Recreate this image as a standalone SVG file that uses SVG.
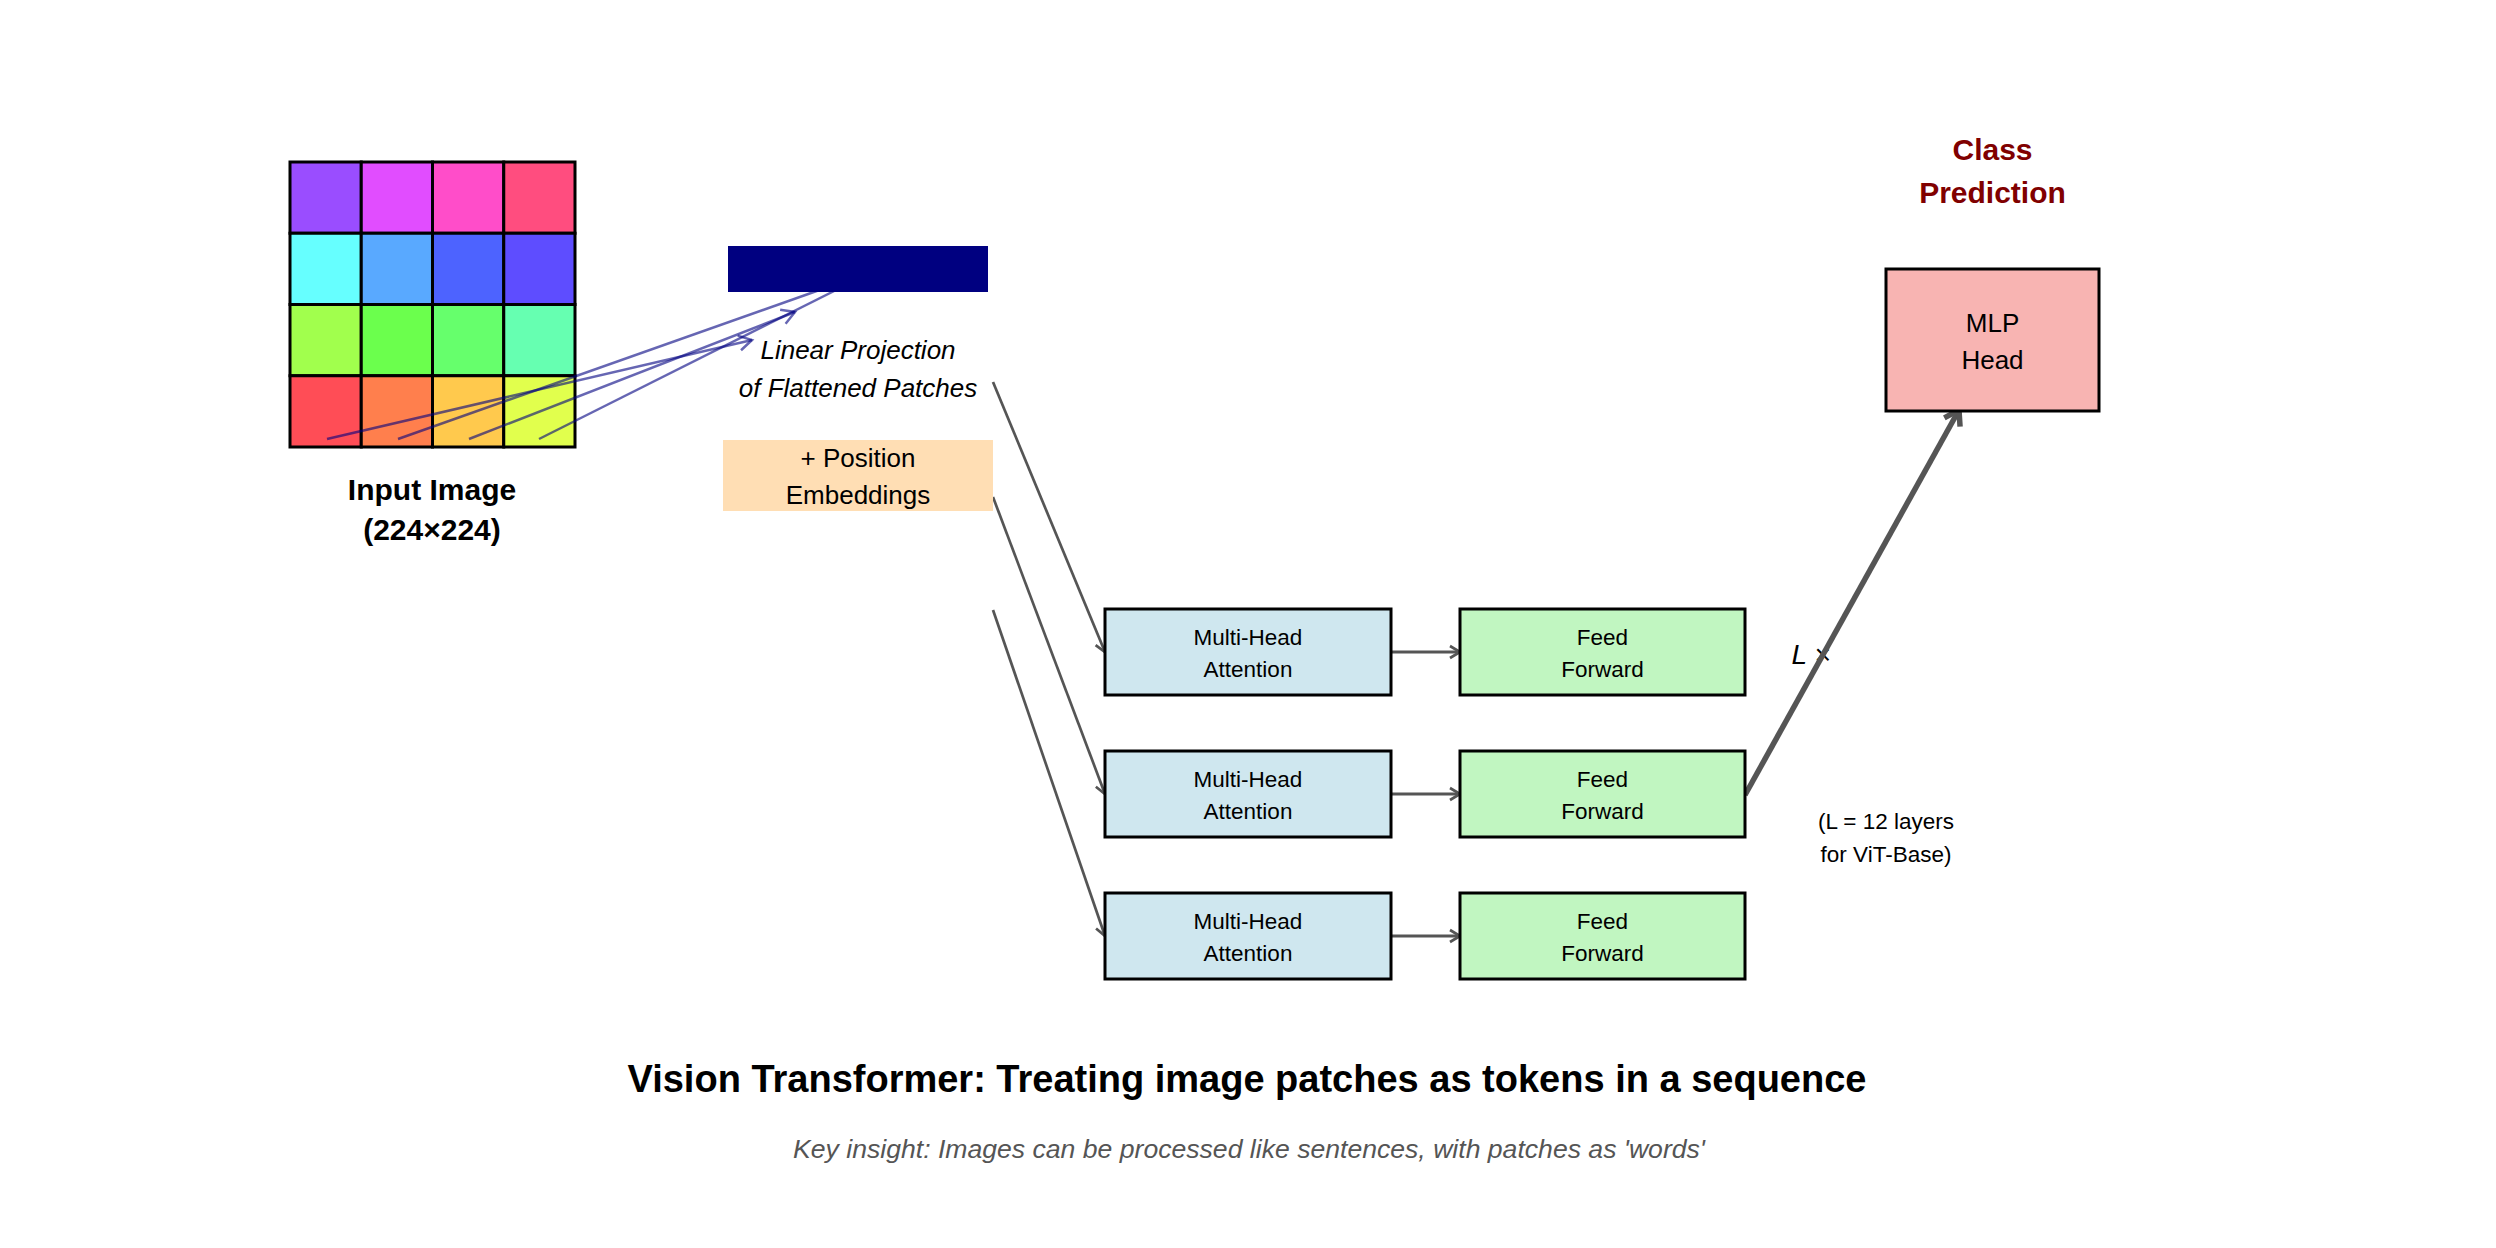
<svg xmlns="http://www.w3.org/2000/svg" width="2496" height="1248" viewBox="0 0 2496 1248">
<style>
  text { font-family: "Liberation Sans", Arial, sans-serif; fill: #000; }
  .cell { stroke: #000; stroke-width: 3; }
  .box { stroke: #000; stroke-width: 3; }
  .mha { fill: #CFE7EF; }
  .ff { fill: #C1F6C1; }
  .mlp { fill: #F8B4B2; }
  .lbl { font-size: 22.5px; text-anchor: middle; }
  .blue { stroke: #000080; stroke-opacity: 0.6; stroke-width: 2.5; fill: none; }
  .gray { stroke: #555; stroke-width: 2.7; fill: none; }
  .gray-h { stroke: #555; stroke-width: 3; fill: none; }
  .gray-big { stroke: #555; stroke-width: 5.5; fill: none; }
</style>
<defs>
  <marker id="arrBlue" markerUnits="userSpaceOnUse" markerWidth="24" markerHeight="24" viewBox="0 0 24 24" refX="20" refY="12" orient="auto">
    <path d="M7,4.5 L20,12 L7,19.5" fill="none" stroke="#000080" stroke-opacity="0.6" stroke-width="2.5"/>
  </marker>
  <marker id="arrGray" markerUnits="userSpaceOnUse" markerWidth="24" markerHeight="24" viewBox="0 0 24 24" refX="20" refY="12" orient="auto">
    <path d="M10,6 L20,12 L10,18" fill="none" stroke="#555" stroke-width="2.7"/>
  </marker>
  <marker id="arrBig" markerUnits="userSpaceOnUse" markerWidth="34" markerHeight="34" viewBox="0 0 34 34" refX="28" refY="17" orient="auto">
    <path d="M14,8 L28,17 L14,26" fill="none" stroke="#555" stroke-width="5.5"/>
  </marker>
</defs>
<rect x="0" y="0" width="2496" height="1248" fill="#fff"/>

<g id="input-image">
  <rect class="cell" x="290" y="162" width="71.25" height="71.25" fill="#9A4DFF"/>
  <rect class="cell" x="361.25" y="162" width="71.25" height="71.25" fill="#E14DFF"/>
  <rect class="cell" x="432.5" y="162" width="71.25" height="71.25" fill="#FF4DC9"/>
  <rect class="cell" x="503.75" y="162" width="71.25" height="71.25" fill="#FF4D7F"/>
  <rect class="cell" x="290" y="233.25" width="71.25" height="71.25" fill="#66FFFF"/>
  <rect class="cell" x="361.25" y="233.25" width="71.25" height="71.25" fill="#59A9FF"/>
  <rect class="cell" x="432.5" y="233.25" width="71.25" height="71.25" fill="#4D63FF"/>
  <rect class="cell" x="503.75" y="233.25" width="71.25" height="71.25" fill="#5E4DFF"/>
  <rect class="cell" x="290" y="304.5" width="71.25" height="71.25" fill="#A1FF4D"/>
  <rect class="cell" x="361.25" y="304.5" width="71.25" height="71.25" fill="#6BFF4D"/>
  <rect class="cell" x="432.5" y="304.5" width="71.25" height="71.25" fill="#66FF6C"/>
  <rect class="cell" x="503.75" y="304.5" width="71.25" height="71.25" fill="#66FFB1"/>
  <rect class="cell" x="290" y="375.75" width="71.25" height="71.25" fill="#FF4D56"/>
  <rect class="cell" x="361.25" y="375.75" width="71.25" height="71.25" fill="#FF7F4D"/>
  <rect class="cell" x="432.5" y="375.75" width="71.25" height="71.25" fill="#FFC94D"/>
  <rect class="cell" x="503.75" y="375.75" width="71.25" height="71.25" fill="#E1FF4D"/>
  <text x="432" y="500" font-size="30" font-weight="bold" text-anchor="middle">Input Image</text>
  <text x="432" y="540" font-size="30" font-weight="bold" text-anchor="middle">(224×224)</text>
</g>

<text id="layers-label" x="1811" y="664" font-size="28" font-style="italic" text-anchor="middle">L ×</text>

<g id="connectors">
  <line class="blue" x1="327" y1="439" x2="752" y2="340" marker-end="url(#arrBlue)"/>
  <line class="blue" x1="398" y1="439" x2="876" y2="270" marker-end="url(#arrBlue)"/>
  <line class="blue" x1="469" y1="439" x2="795" y2="312" marker-end="url(#arrBlue)"/>
  <line class="blue" x1="539" y1="439" x2="876" y2="270" marker-end="url(#arrBlue)"/>
  <line class="gray" x1="993" y1="382" x2="1105" y2="652" marker-end="url(#arrGray)"/>
  <line class="gray" x1="993" y1="497" x2="1105" y2="794" marker-end="url(#arrGray)"/>
  <line class="gray" x1="993" y1="610" x2="1105" y2="936" marker-end="url(#arrGray)"/>
  <line class="gray-h" x1="1391" y1="652" x2="1460" y2="652" marker-end="url(#arrGray)"/>
  <line class="gray-h" x1="1391" y1="794" x2="1460" y2="794" marker-end="url(#arrGray)"/>
  <line class="gray-h" x1="1391" y1="936" x2="1460" y2="936" marker-end="url(#arrGray)"/>
  <line class="gray-big" x1="1745" y1="795" x2="1959" y2="410" marker-end="url(#arrBig)"/>
</g>

<g id="patch-embeddings">
  <rect x="728" y="246" width="260" height="46" fill="#000080"/>
</g>

<g id="linear-projection">
  <text x="858" y="359" font-size="26" font-style="italic" text-anchor="middle">Linear Projection</text>
  <text x="858" y="397" font-size="26" font-style="italic" text-anchor="middle">of Flattened Patches</text>
</g>

<g id="position-embeddings">
  <rect x="723" y="440" width="270" height="71" fill="#FFDEB4"/>
  <text x="858" y="467" font-size="26" text-anchor="middle">+ Position</text>
  <text x="858" y="504" font-size="26" text-anchor="middle">Embeddings</text>
</g>

<g id="mha-1">
  <rect class="box mha" x="1105" y="609" width="286" height="86"/>
  <text class="lbl" x="1248" y="645">Multi-Head</text>
  <text class="lbl" x="1248" y="677">Attention</text>
</g>
<g id="ff-1">
  <rect class="box ff" x="1460" y="609" width="285" height="86"/>
  <text class="lbl" x="1602.5" y="645">Feed</text>
  <text class="lbl" x="1602.5" y="677">Forward</text>
</g>
<g id="mha-2">
  <rect class="box mha" x="1105" y="751" width="286" height="86"/>
  <text class="lbl" x="1248" y="787">Multi-Head</text>
  <text class="lbl" x="1248" y="819">Attention</text>
</g>
<g id="ff-2">
  <rect class="box ff" x="1460" y="751" width="285" height="86"/>
  <text class="lbl" x="1602.5" y="787">Feed</text>
  <text class="lbl" x="1602.5" y="819">Forward</text>
</g>
<g id="mha-3">
  <rect class="box mha" x="1105" y="893" width="286" height="86"/>
  <text class="lbl" x="1248" y="929">Multi-Head</text>
  <text class="lbl" x="1248" y="961">Attention</text>
</g>
<g id="ff-3">
  <rect class="box ff" x="1460" y="893" width="285" height="86"/>
  <text class="lbl" x="1602.5" y="929">Feed</text>
  <text class="lbl" x="1602.5" y="961">Forward</text>
</g>

<g id="mlp-head">
  <rect class="box mlp" x="1886" y="269" width="213" height="142"/>
  <text x="1992.5" y="332" font-size="26" text-anchor="middle">MLP</text>
  <text x="1992.5" y="369" font-size="26" text-anchor="middle">Head</text>
</g>

<g id="class-prediction">
  <text x="1992.5" y="160" font-size="30" font-weight="bold" text-anchor="middle" style="fill:#800000">Class</text>
  <text x="1992.5" y="203" font-size="30" font-weight="bold" text-anchor="middle" style="fill:#800000">Prediction</text>
</g>

<g id="layers-note">
  <text class="lbl" x="1886" y="829">(L = 12 layers</text>
  <text class="lbl" x="1886" y="862">for ViT-Base)</text>
</g>

<g id="title">
  <text x="1247" y="1092" font-size="38" font-weight="bold" text-anchor="middle">Vision Transformer: Treating image patches as tokens in a sequence</text>
  <text x="1249" y="1158" font-size="26.6" font-style="italic" text-anchor="middle" style="fill:#555">Key insight: Images can be processed like sentences, with patches as 'words'</text>
</g>
</svg>
